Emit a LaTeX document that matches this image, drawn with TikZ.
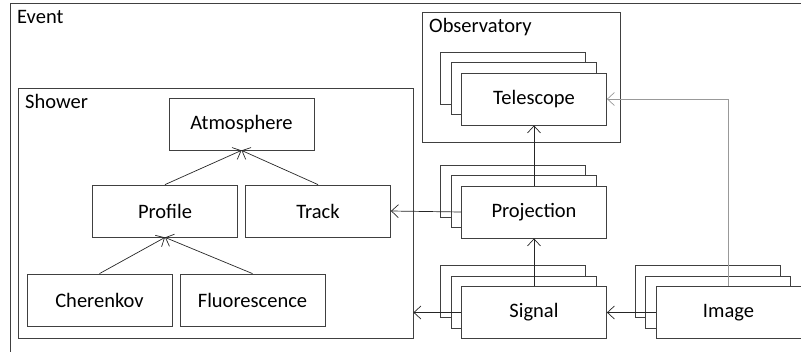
\documentclass[tikz,border=0pt]{standalone}
\usepackage{fontspec}
\setmainfont{Carlito}
\usetikzlibrary{positioning}
\usetikzlibrary{arrows.meta}

\tikzset{
  block/.style={draw=black!75, fill=white, line width=0.8pt, minimum width=145pt,
    minimum height=52pt, inner sep=0pt, font=\fontsize{20.5}{24}\selectfont},
  group/.style={draw=black!75, line width=0.8pt, inner sep=0pt},
  title/.style={anchor=base west, inner sep=0pt, font=\fontsize{20.5}{24}\selectfont},
  link/.style={draw=black!85, line width=0.7pt, -{Straight Barb[length=7pt,width=13pt]}},
}

% a block with two copies behind it
\newcommand{\stackbox}[4]{%
  \node[block] (#1-b) at ([xshift=-21pt,yshift=21pt]#2,#3) {};
  \node[block] (#1-m) at ([xshift=-10.5pt,yshift=10.5pt]#2,#3) {};
  \node[block] (#1) at (#2,#3) {#4};
}

\begin{document}
\begin{tikzpicture}[x=1pt,y=-1pt]
  \useasboundingbox (0,0) rectangle (801,351);
  \clip (0,0) rectangle (801,351);

  \node[group, minimum width=810pt, minimum height=370pt] (event) at (415,188) {};
  \node[title] (eventlabel) at (17,23) {Event};

  \node[group, minimum width=395pt, minimum height=250pt] (shower) at (215.5,213) {};
  \node[title] (showerlabel) at (25,108) {Shower};
  \node[group, minimum width=198pt, minimum height=130pt] (obs) at (521,77) {};
  \node[title] (obslabel) at (429,32) {Observatory};

  \node[block] (atmo) at (241.5,124) {Atmosphere};
  \node[block] (profile) at (165,211) {Profile};
  \node[block] (track) at (318,211) {Track};
  \node[block] (cherenkov) at (99.5,300) {Cherenkov};
  \node[block] (fluo) at (252.5,300) {Fluorescence};

  \stackbox{telescope}{534}{99}{Telescope}
  \stackbox{proj}{534}{212}{Projection}
  \stackbox{signal}{534}{312.5}{Signal}
  \stackbox{image}{728.5}{312.5}{Image}

  \draw[link] (profile.north) -- (atmo.south);
  \draw[link] (track.north) -- (atmo.south);
  \draw[link] (cherenkov.north) -- (profile.south);
  \draw[link] (fluo.north) -- (profile.south);

  \draw[link] (proj.north) -- (telescope.south);
  \draw[link] (signal.north) -- (proj.south);
  \draw[link] (proj.west) -- (track.east);
  \draw[link] (signal.west) -- (signal.west -| shower.east);
  \draw[link] (image.west) -- (signal.east);
  \draw[link, draw=black!40] (image.north) |- (telescope.east);
\end{tikzpicture}
\end{document}
